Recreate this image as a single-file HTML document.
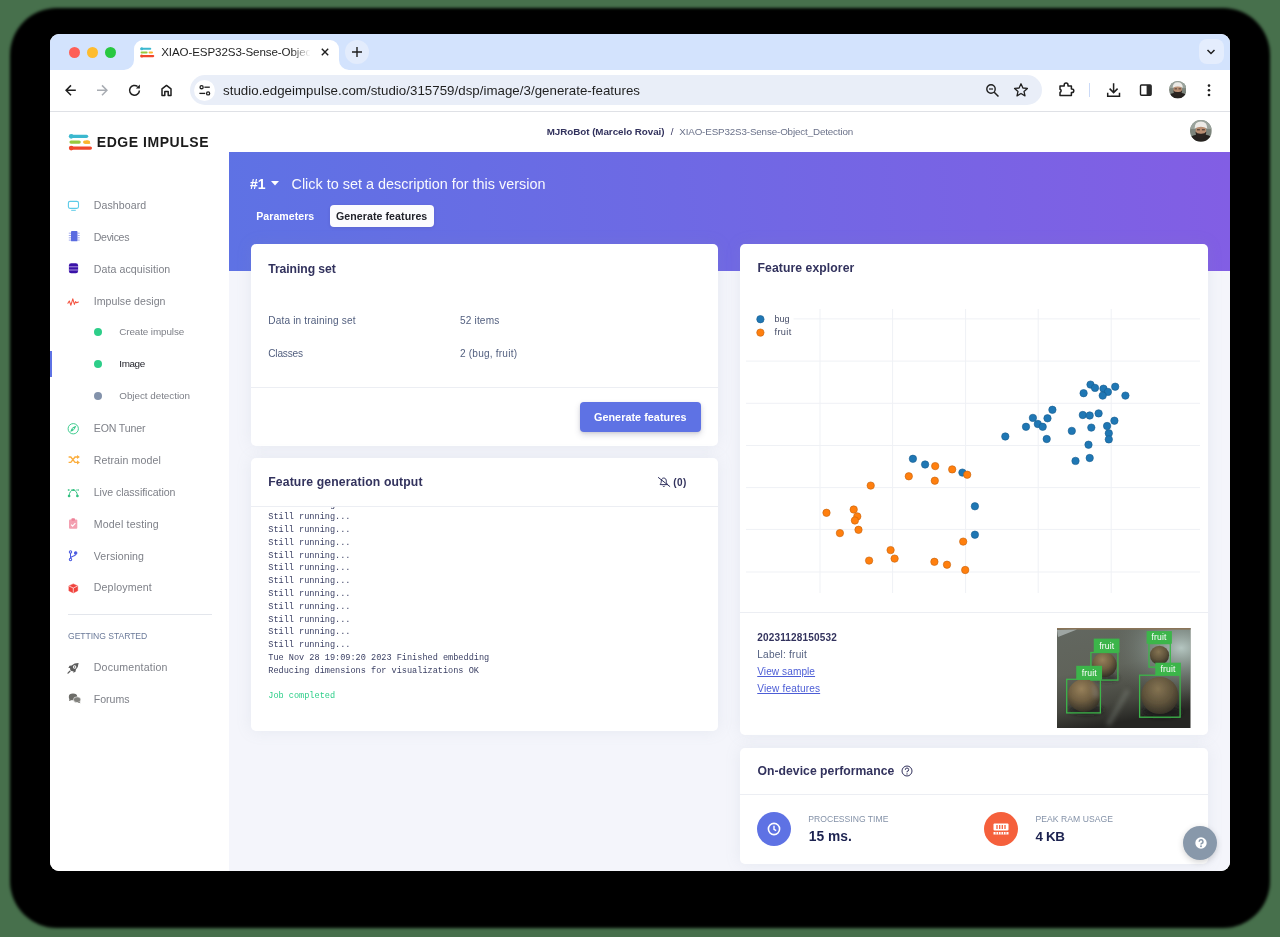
<!DOCTYPE html>
<html>
<head>
<meta charset="utf-8">
<title>XIAO-ESP32S3-Sense-Object_Detection</title>
<style>
*{box-sizing:border-box;margin:0;padding:0}
html,body{width:1280px;height:937px;overflow:hidden;background:#47704c}
body{font-family:"Liberation Sans",sans-serif;position:relative;color:#525f7f}
.abs{position:absolute}
.t{position:absolute;white-space:nowrap;line-height:1}
#shadow{position:absolute;left:9.5px;top:8px;width:1260.5px;height:919.5px;border-radius:47px;background:#000;filter:blur(1.5px)}
#win{position:absolute;left:50px;top:34px;width:1179.7px;height:837.4px;border-radius:9px;overflow:hidden;background:#fff}
#win>*{position:absolute}
/* coordinates inside #win are page coords minus (50,34); use helper wrapper to keep page coords */
#pg{left:-50px;top:-34px;width:1280px;height:937px;will-change:transform}
#pg>*{position:absolute}
/* chrome */
#tabstrip{left:50px;top:34px;width:1180px;height:35.5px;background:#d3e3fd}
#toolbar{left:50px;top:69.5px;width:1180px;height:42px;background:#fff;border-bottom:1px solid #dfe1e6}
#tab{left:133.5px;top:39.5px;width:205.5px;height:31px;background:#fff;border-radius:9px 9px 0 0}
.tl{width:11.2px;height:11.2px;border-radius:50%;top:46.7px}
#urlpill{left:189.7px;top:75.3px;width:852.5px;height:29.6px;border-radius:15px;background:#e9eef8}
/* app */
#sidebar{left:50px;top:111.5px;width:179px;height:761px;background:#fff}
#main{left:229px;top:111.5px;width:1001px;height:761px;background:#f4f5fb}
#topbar{left:229px;top:111.5px;width:1001px;height:40.5px;background:#fff}
#hero{left:229px;top:151.75px;width:1001px;height:119px;background:linear-gradient(87deg,#5e72e4 0%,#825ee4 100%)}
.card{background:#fff;border-radius:5px;box-shadow:0 0 16px rgba(136,152,170,.13)}
.hr{height:1px;background:#eceef3}
.ct{font-size:13px;font-weight:bold;color:#32325d}
.mi{font-size:11px;color:#7a7f8e}
.sub{font-size:9.5px;color:#7a7f8e}
.lbl{font-size:10.5px;color:#525f7f}
.log{font-family:"Liberation Mono",monospace;font-size:8.57px;color:#3a3f63;line-height:12.78px;white-space:pre}
</style>
</head>
<body>
<div id="shadow"></div>
<div id="win"><div id="pg">
<!-- CHROME -->
<div id="tabstrip"></div>
<div id="toolbar"></div>
<div id="tab"></div>
<!-- APP -->
<div id="sidebar"></div>
<div id="main"></div>
<div id="topbar"></div>
<div id="hero"></div>
<!-- chrome details -->
<div class="tl" style="left:69px;background:#fe5f57"></div>
<div class="tl" style="left:86.9px;background:#febc2e"></div>
<div class="tl" style="left:104.7px;background:#28c840"></div>
<!-- tab curves -->
<svg style="left:123.5px;top:59.5px" width="10" height="10" viewBox="0 0 10 10"><path d="M10 0 V10 H0 A10 10 0 0 0 10 0Z" fill="#fff"/></svg>
<svg style="left:339px;top:59.5px" width="10" height="10" viewBox="0 0 10 10"><path d="M0 0 V10 H10 A10 10 0 0 1 0 0Z" fill="#fff"/></svg>
<!-- favicon -->
<svg style="left:139.5px;top:46.5px" width="15" height="11" viewBox="0 0 15 11">
 <path d="M1.6 1.8 H10.2" stroke="#3bb8cf" stroke-width="2.1" stroke-linecap="round"/><circle cx="1.7" cy="1.8" r="1.5" fill="#3bb8cf"/>
 <path d="M1.6 5.4 H6.6" stroke="#97c93d" stroke-width="2" stroke-linecap="round"/>
 <path d="M9.6 5.4 H12" stroke="#fbb52f" stroke-width="2" stroke-linecap="round"/>
 <path d="M1.6 9.1 H13.2" stroke="#f0472b" stroke-width="2.1" stroke-linecap="round"/><circle cx="1.7" cy="9.1" r="1.5" fill="#f0472b"/>
</svg>
<svg style="left:320px;top:47px" width="10" height="10" viewBox="0 0 10 10"><path d="M1.8 1.8 L8.2 8.2 M8.2 1.8 L1.8 8.2" stroke="#1f1f1f" stroke-width="1.4" fill="none"/></svg>
<!-- new tab -->
<div style="left:345px;top:40px;width:24px;height:24px;border-radius:50%;background:#e3ecfc"></div>
<svg style="left:351px;top:46px" width="12" height="12" viewBox="0 0 12 12"><path d="M6 1 V11 M1 6 H11" stroke="#1f1f1f" stroke-width="1.4" fill="none"/></svg>
<!-- tab search -->
<div style="left:1199px;top:39px;width:24.7px;height:25.4px;border-radius:8px;background:#e4edfd"></div>
<svg style="left:1206.3px;top:48px" width="10" height="8" viewBox="0 0 10 8"><path d="M1.5 2 L5 5.5 L8.5 2" stroke="#1f1f1f" stroke-width="1.5" fill="none"/></svg>
<!-- nav icons -->
<svg style="left:60px;top:80px" width="120" height="20" viewBox="60 80 120 20" fill="none" stroke="#1f1f1f" stroke-width="1.5">
<path d="M75.8 90.3 H66.4 M71 85.4 L66.1 90.3 L71 95.2"/>
<path d="M97 90.3 H106.6 M102 85.4 L106.9 90.3 L102 95.2" stroke="#a8acb2"/>
<path d="M139.4 90.4 A4.9 4.9 0 1 1 137.6 86.5"/><path d="M139.9 84.6 V88.6 H135.9Z" fill="#1f1f1f" stroke="none"/>
<path d="M162 95.5 V88.9 L166.5 85.4 L171 88.9 V95.5 H168.2 V91.4 H164.8 V95.5 Z" stroke-linejoin="round"/>
</svg>
<div id="urlpill"></div>
<div style="left:193.8px;top:79.6px;width:21.4px;height:21.4px;border-radius:50%;background:#fff"></div>
<svg style="left:197px;top:83px" width="15" height="15" viewBox="197 83 15 15" fill="none" stroke="#1f1f1f" stroke-width="1.3"><circle cx="201.6" cy="87.2" r="1.55"/><path d="M204.4 87.2 H209.8"/><path d="M199.4 93.4 H205.2"/><circle cx="208.1" cy="93.4" r="1.55"/></svg>
<!-- right toolbar icons -->
<svg style="left:985px;top:83px" width="15" height="15" viewBox="0 0 15 15"><circle cx="6" cy="6" r="4.2" stroke="#1f1f1f" stroke-width="1.4" fill="none"/><path d="M9.2 9.2 L13.5 13.5" stroke="#1f1f1f" stroke-width="1.5"/><path d="M4 6 H8" stroke="#1f1f1f" stroke-width="1.2"/></svg>
<svg style="left:1013px;top:82px" width="16" height="16" viewBox="0 0 16 16"><path d="M8 1.8 L9.9 6 L14.4 6.4 L11 9.4 L12 13.9 L8 11.5 L4 13.9 L5 9.4 L1.6 6.4 L6.1 6Z" stroke="#1f1f1f" stroke-width="1.3" fill="none" stroke-linejoin="round"/></svg>
<svg style="left:1057px;top:80px" width="19" height="19" viewBox="1057 80 19 19" fill="none" stroke="#1f1f1f" stroke-width="1.5" stroke-linejoin="round"><path d="M1060 86 H1064.2 V85 A1.9 1.9 0 0 1 1068 85 V86 H1071.4 V89 H1072 A1.8 1.8 0 0 1 1072 92.6 H1071.4 V95.6 H1060 V92.4 A1.7 1.7 0 0 0 1060 89.2 Z"/></svg>
<div style="left:1088.5px;top:83.3px;width:1.4px;height:13.8px;background:#cbdaf7"></div>
<svg style="left:1104px;top:80px" width="19" height="19" viewBox="1104 80 19 19" fill="none" stroke="#1f1f1f" stroke-width="1.5"><path d="M1113.6 83.2 V92.4 M1109.6 88.6 L1113.6 92.6 L1117.6 88.6 M1107.7 92.8 V96.2 H1119.5 V92.8"/></svg>
<svg style="left:1138px;top:82px" width="16" height="16" viewBox="1138 82 16 16"><rect x="1140.5" y="85" width="10.6" height="10.3" rx="1" stroke="#1f1f1f" stroke-width="1.4" fill="none"/><rect x="1146.6" y="85" width="4.5" height="10.3" fill="#2a2a2a"/></svg>
<svg style="left:1168.75px;top:81.25px" width="17.5" height="17.5" viewBox="0 0 22 22"><defs><clipPath id="ca1"><circle cx="11" cy="11" r="11"/></clipPath></defs><g clip-path="url(#ca1)"><rect width="22" height="22" fill="#7d857c"/><rect x="0" y="0" width="22" height="9" fill="#9aa39c"/><path d="M0 22 V17.5 Q4 14.5 7 15 H15 Q18.5 14.5 22 17.5 V22Z" fill="#26221f"/><ellipse cx="11" cy="11.2" rx="5.4" ry="6.3" fill="#b98e72"/><path d="M5.5 11.5 Q6 18.8 11 18.8 Q16 18.8 16.5 11.5 Q15 14 11 13.8 Q7 14 5.5 11.5Z" fill="#2b2420"/><path d="M4.6 8.6 Q4.6 1.6 11 1.6 Q17.4 1.6 17.4 8.6 Q14 6.9 11 6.9 Q8 6.9 4.6 8.6Z" fill="#eceae6"/><rect x="7" y="9.4" width="3" height="1" fill="#3a2e28"/><rect x="12" y="9.4" width="3" height="1" fill="#3a2e28"/></g></svg>
<svg style="left:1206.4px;top:82px" width="6" height="16" viewBox="0 0 6 16"><circle cx="3" cy="3.6" r="1.3" fill="#1f1f1f"/><circle cx="3" cy="8.3" r="1.3" fill="#1f1f1f"/><circle cx="3" cy="13" r="1.3" fill="#1f1f1f"/></svg>
<!-- SIDEBAR -->
<svg style="left:68px;top:133px" width="26" height="18" viewBox="68 133 26 18">
 <path d="M71.2 136.3 H86.6" stroke="#3bb8cf" stroke-width="3.3" stroke-linecap="round"/><circle cx="71.2" cy="136.3" r="2.35" fill="#3bb8cf"/>
 <path d="M71 142.1 H79.2" stroke="#97c93d" stroke-width="3.1" stroke-linecap="round"/>
 <path d="M84.6 142.1 H88.6" stroke="#fbb52f" stroke-width="3.1" stroke-linecap="round"/><path d="M86 140.55 H88 L90.6 143.65 H84.6Z" fill="#fbb52f"/>
 <path d="M71.2 148.1 H90.4" stroke="#f0472b" stroke-width="3.2" stroke-linecap="round"/><circle cx="71.2" cy="148.1" r="2.35" fill="#f0472b"/>
</svg>
<div style="left:67.8px;top:614.1px;width:144px;height:1px;background:#e3e6ec"></div>
<div style="left:50px;top:350.5px;width:2.4px;height:26px;background:#5e72e4"></div>
<!-- sidebar icons -->
<svg style="left:66px;top:199px" width="15" height="14" viewBox="66 199 15 14" fill="none" stroke="#5ccbe8" stroke-width="1.1"><rect x="68.4" y="201.4" width="10.1" height="7" rx="1.6"/><path d="M71.2 210.3 H75.8" stroke-width="1"/></svg>
<svg style="left:67px;top:229px" width="15" height="15" viewBox="67 229 15 15"><rect x="71" y="231" width="6.5" height="10.3" rx=".9" fill="#5a6be0"/><path d="M68.8 233.2H71 M68.8 235.5H71 M68.8 237.8H71 M68.8 240.1H71 M77.5 233.2H79.7 M77.5 235.5H79.7 M77.5 237.8H79.7 M77.5 240.1H79.7" stroke="#8a96ea" stroke-width=".8"/></svg>
<svg style="left:67px;top:261px" width="14" height="14" viewBox="67 261 14 14"><rect x="68.9" y="263.3" width="9.2" height="9.9" rx="2.2" fill="#3a12a8"/><path d="M68.9 266.8 H78.1 M68.9 270 H78.1" stroke="#d9cdf5" stroke-width=".7"/></svg>
<svg style="left:66px;top:296px" width="15" height="12" viewBox="66 296 15 12"><path d="M67.9 303.2 L69.3 301 L70.9 305.2 L72.8 298.8 L74.4 304.4 L75.6 301.6 L76.6 302.8 L78.4 302" stroke="#f4523f" stroke-width="1.05" fill="none" stroke-linejoin="round" stroke-linecap="round"/></svg>
<div style="left:94px;top:328px;width:8px;height:8px;border-radius:50%;background:#2dce89"></div>
<div style="left:94px;top:360px;width:8px;height:8px;border-radius:50%;background:#2dce89"></div>
<div style="left:94px;top:392px;width:8px;height:8px;border-radius:50%;background:#8392ab"></div>
<svg style="left:66px;top:421px" width="15" height="15" viewBox="66 421 15 15"><circle cx="73.25" cy="428.75" r="5.15" fill="none" stroke="#37c98a" stroke-width=".95"/><path d="M76.3 425.7 Q75 429 73.9 430 Q72.2 431.4 70.2 431.8 Q71.4 428.6 72.6 427.5 Q74.2 426.1 76.3 425.7Z" fill="#37c98a"/><circle cx="73.25" cy="428.75" r=".7" fill="#fff"/></svg>
<svg style="left:67px;top:453px" width="15" height="13" viewBox="67 453 15 13"><path d="M68.6 457 H70.8 L75 462.4 H77.6 M68.6 462.4 H70.8 L75 457 H77.6" stroke="#fbad3c" stroke-width="1.35" fill="none"/><path d="M77 454.9 L79.9 457 L77 459.1Z M77 460.3 L79.9 462.4 L77 464.5Z" fill="#fbad3c"/></svg>
<svg style="left:66px;top:486px" width="15" height="13" viewBox="66 486 15 13"><path d="M69.1 495.8 C69.3 492.6 70.8 490.2 73.3 490 C75.8 490.2 77.2 492.6 77.4 495.8" stroke="#34c182" stroke-width="1" fill="none"/><path d="M68.3 490 H78.4" stroke="#34c182" stroke-width=".8" stroke-dasharray="1.6 1"/><circle cx="69.1" cy="496" r="1.35" fill="#34c182"/><circle cx="77.4" cy="496" r="1.35" fill="#34c182"/><circle cx="73.3" cy="490" r="1" fill="#34c182"/><circle cx="68.4" cy="490" r=".7" fill="#34c182"/><circle cx="78.3" cy="490" r=".7" fill="#34c182"/></svg>
<svg style="left:67px;top:516px" width="13" height="15" viewBox="67 516 13 15"><rect x="69" y="519.6" width="8.3" height="9.2" rx="1" fill="#f3a0b1"/><rect x="71.4" y="518.3" width="3.6" height="2.4" rx=".9" fill="#ee8198"/><path d="M71.1 524.6 L72.6 526.1 L75.4 523.1" stroke="#fff" stroke-width="1.15" fill="none"/></svg>
<svg style="left:67px;top:548px" width="13" height="15" viewBox="67 548 13 15" fill="none" stroke="#4a5ae0" stroke-width="1.05"><circle cx="70.5" cy="551.9" r="1.2"/><circle cx="70.5" cy="559.5" r="1.2"/><circle cx="75.7" cy="553" r="1.2" fill="#4a5ae0"/><path d="M70.5 553.1 V558.3 M75.7 554.2 C75.7 556.6 70.5 556 70.5 558.2"/></svg>
<svg style="left:67px;top:582px" width="13" height="13" viewBox="67 582 13 13"><path d="M73.3 583.9 L77.7 585.9 V590.8 L73.3 592.9 L68.9 590.8 V585.9Z" fill="#f0423c" stroke="#f0423c" stroke-width=".5" stroke-linejoin="round"/><path d="M69.1 586.1 L73.3 588 L77.5 586.1 M73.3 588 V592.7" stroke="#fff" stroke-width=".7" fill="none"/></svg>
<svg style="left:66px;top:661px" width="15" height="14" viewBox="66 661 15 14"><path d="M78.6 663 Q74.5 662.9 71.6 665.4 L69.5 665.8 L68.4 668 L70.1 667.9 Q69.9 669.3 70.6 670.6 Q72 671.4 73.4 671.1 L73.3 672.8 L75.5 671.7 L75.9 669.6 Q78.5 666.8 78.6 663Z" fill="#5c5c5c"/><circle cx="74.6" cy="667" r="1.7" fill="#fff"/><circle cx="74.6" cy="667" r=".8" fill="#5c5c5c"/><path d="M69.9 671.3 L68 673.1" stroke="#5c5c5c" stroke-width="1.3" stroke-linecap="round"/></svg>
<svg style="left:67px;top:692px" width="16" height="13" viewBox="67 692 16 13"><ellipse cx="73" cy="696.9" rx="4.2" ry="3.3" fill="#6c6c68"/><path d="M69.6 698.6 L69 701 L72 699.9Z" fill="#6c6c68"/><ellipse cx="77.1" cy="699.7" rx="3.7" ry="2.9" fill="#80807c" stroke="#fff" stroke-width=".6"/><path d="M79.3 701.6 L80.6 703.2 L77.6 702.5Z" fill="#80807c"/></svg>
<!-- TOPBAR -->
<svg style="left:1190.2px;top:120.4px" width="21.8" height="21.8" viewBox="0 0 22 22"><defs><clipPath id="ca2"><circle cx="11" cy="11" r="11"/></clipPath></defs><g clip-path="url(#ca2)"><rect width="22" height="22" fill="#7d857c"/><rect x="0" y="0" width="22" height="9" fill="#9aa39c"/><path d="M0 22 V17.5 Q4 14.5 7 15 H15 Q18.5 14.5 22 17.5 V22Z" fill="#26221f"/><ellipse cx="11" cy="11.2" rx="5.4" ry="6.3" fill="#b98e72"/><path d="M5.5 11.5 Q6 18.8 11 18.8 Q16 18.8 16.5 11.5 Q15 14 11 13.8 Q7 14 5.5 11.5Z" fill="#2b2420"/><path d="M4.6 8.6 Q4.6 1.6 11 1.6 Q17.4 1.6 17.4 8.6 Q14 6.9 11 6.9 Q8 6.9 4.6 8.6Z" fill="#eceae6"/><rect x="7" y="9.4" width="3" height="1" fill="#3a2e28"/><rect x="12" y="9.4" width="3" height="1" fill="#3a2e28"/></g></svg>
<!-- HERO -->
<svg style="left:271px;top:181px" width="8" height="5" viewBox="0 0 8 5"><path d="M0 0 H8 L4 4.5Z" fill="#fff"/></svg>
<div style="left:330px;top:205px;width:104px;height:22px;border-radius:4px;background:#fbfbfe;box-shadow:0 1px 3px rgba(50,50,93,.15)"></div>
<!-- TRAINING SET CARD -->
<div class="card" style="left:251px;top:244px;width:467px;height:202px"></div>
<div class="hr" style="left:251px;top:387px;width:467px"></div>
<div style="left:580px;top:402px;width:121px;height:30px;border-radius:4px;background:#5e72e4;box-shadow:0 3px 6px rgba(50,50,93,.18),0 1px 3px rgba(0,0,0,.1)"></div>
<!-- OUTPUT CARD -->
<div class="card" style="left:251px;top:458px;width:467px;height:273px"></div>
<svg style="left:656px;top:475px" width="16" height="14" viewBox="656 475 16 14" fill="none" stroke="#2b2d5b"><path d="M663.8 478 C661.9 478 661.3 479.7 661.3 481.2 C661.3 483.1 660.5 483.9 660.1 484.6 H667.5 C667.1 483.9 666.3 483.1 666.3 481.2 C666.3 479.7 665.7 478 663.8 478Z M662.8 485.8 A1.05 1.05 0 0 0 664.8 485.8" stroke-width=".95"/><path d="M658.1 477.3 L670.1 486.7" stroke-width="1"/></svg>
<div class="hr" style="left:251px;top:506px;width:467px"></div>
<div style="left:251px;top:507px;width:467px;height:210px;overflow:hidden"><div class="log" id="log" style="position:absolute;left:17.25px;top:-8.5px">Still running...
Still running...
Still running...
Still running...
Still running...
Still running...
Still running...
Still running...
Still running...
Still running...
Still running...
Still running...
Tue Nov 28 19:09:20 2023 Finished embedding
Reducing dimensions for visualizations OK

<span style="color:#2dce89">Job completed</span></div></div>
<!-- FEATURE EXPLORER -->
<div class="card" style="left:740px;top:244px;width:468px;height:491px"></div>
<svg id="plot" style="left:0;top:0" width="1280" height="937" viewBox="0 0 1280 937">
<path d="M820.0 309 V593" stroke="#eff1f5" stroke-width="1"/><path d="M892.6 309 V593" stroke="#eff1f5" stroke-width="1"/><path d="M965.6 309 V593" stroke="#eff1f5" stroke-width="1"/><path d="M1038.2 309 V593" stroke="#eff1f5" stroke-width="1"/><path d="M1111.2 309 V593" stroke="#eff1f5" stroke-width="1"/><path d="M746 318.9 H1200" stroke="#eff1f5" stroke-width="1"/><path d="M746 361.1 H1200" stroke="#eff1f5" stroke-width="1"/><path d="M746 403.3 H1200" stroke="#eff1f5" stroke-width="1"/><path d="M746 445.5 H1200" stroke="#eff1f5" stroke-width="1"/><path d="M746 487.6 H1200" stroke="#eff1f5" stroke-width="1"/><path d="M746 529.4 H1200" stroke="#eff1f5" stroke-width="1"/><path d="M746 572.0 H1200" stroke="#eff1f5" stroke-width="1"/>
<rect x="745" y="311" width="48.5" height="29" fill="#fff"/>
<circle cx="760.4" cy="319.2" r="3.7" fill="#1f77b4" stroke="#185d8e" stroke-width=".6"/>
<circle cx="760.4" cy="332.6" r="3.7" fill="#ff7f0e" stroke="#c4620b" stroke-width=".6"/>
<g fill="#1f77b4" stroke="#185d8e" stroke-width="0.6"><circle cx="1090.5" cy="384.6" r="3.7"/><circle cx="1095.0" cy="387.9" r="3.7"/><circle cx="1103.5" cy="388.7" r="3.7"/><circle cx="1115.2" cy="386.7" r="3.7"/><circle cx="1083.6" cy="393.2" r="3.7"/><circle cx="1107.9" cy="391.9" r="3.7"/><circle cx="1102.7" cy="395.6" r="3.7"/><circle cx="1125.4" cy="395.6" r="3.7"/><circle cx="1052.4" cy="409.8" r="3.7"/><circle cx="1032.9" cy="417.9" r="3.7"/><circle cx="1047.5" cy="418.3" r="3.7"/><circle cx="1082.8" cy="415.0" r="3.7"/><circle cx="1089.7" cy="415.5" r="3.7"/><circle cx="1098.6" cy="413.4" r="3.7"/><circle cx="1026.0" cy="426.8" r="3.7"/><circle cx="1037.8" cy="424.0" r="3.7"/><circle cx="1042.7" cy="426.8" r="3.7"/><circle cx="1114.4" cy="420.7" r="3.7"/><circle cx="1091.3" cy="427.6" r="3.7"/><circle cx="1107.1" cy="426.0" r="3.7"/><circle cx="1071.8" cy="430.9" r="3.7"/><circle cx="1108.8" cy="433.3" r="3.7"/><circle cx="1005.3" cy="436.5" r="3.7"/><circle cx="1046.7" cy="439.0" r="3.7"/><circle cx="1108.8" cy="439.4" r="3.7"/><circle cx="1088.5" cy="444.7" r="3.7"/><circle cx="1075.5" cy="460.9" r="3.7"/><circle cx="1089.7" cy="458.0" r="3.7"/><circle cx="912.9" cy="458.8" r="3.7"/><circle cx="925.1" cy="464.5" r="3.7"/><circle cx="962.4" cy="472.6" r="3.7"/><circle cx="974.9" cy="506.3" r="3.7"/><circle cx="974.9" cy="534.7" r="3.7"/></g>
<g fill="#ff7f0e" stroke="#c4620b" stroke-width="0.6"><circle cx="935.2" cy="466.1" r="3.7"/><circle cx="952.2" cy="469.4" r="3.7"/><circle cx="967.2" cy="474.7" r="3.7"/><circle cx="908.8" cy="476.3" r="3.7"/><circle cx="934.8" cy="480.7" r="3.7"/><circle cx="870.7" cy="485.6" r="3.7"/><circle cx="826.5" cy="512.8" r="3.7"/><circle cx="853.7" cy="509.5" r="3.7"/><circle cx="857.3" cy="516.4" r="3.7"/><circle cx="854.9" cy="520.5" r="3.7"/><circle cx="858.5" cy="529.8" r="3.7"/><circle cx="839.9" cy="533.1" r="3.7"/><circle cx="963.2" cy="541.6" r="3.7"/><circle cx="890.6" cy="550.1" r="3.7"/><circle cx="894.6" cy="558.6" r="3.7"/><circle cx="869.1" cy="560.6" r="3.7"/><circle cx="934.4" cy="561.8" r="3.7"/><circle cx="947.0" cy="564.7" r="3.7"/><circle cx="965.2" cy="570.0" r="3.7"/></g>
</svg>
<div class="hr" style="left:740px;top:612px;width:468px"></div>
<svg style="left:1057px;top:628px" width="133.5" height="100" viewBox="1057 628 133.5 100">
<defs>
<linearGradient id="fl" x1="0" y1="0" x2="0.25" y2="1"><stop offset="0" stop-color="#626760"/><stop offset=".45" stop-color="#60635a"/><stop offset=".8" stop-color="#45463f"/><stop offset="1" stop-color="#262623"/></linearGradient>
<radialGradient id="lt" cx=".93" cy=".2" r=".55"><stop offset="0" stop-color="#b9cbc6" stop-opacity=".95"/><stop offset=".45" stop-color="#8a9a94" stop-opacity=".55"/><stop offset="1" stop-color="#5c615a" stop-opacity="0"/></radialGradient>
<radialGradient id="b1" cx=".42" cy=".3" r=".75"><stop offset="0" stop-color="#97805a"/><stop offset=".5" stop-color="#6f5e41"/><stop offset="1" stop-color="#2c2a23"/></radialGradient>
<radialGradient id="b2" cx=".45" cy=".32" r=".8"><stop offset="0" stop-color="#847352"/><stop offset=".5" stop-color="#5f533b"/><stop offset="1" stop-color="#24231e"/></radialGradient>
<filter id="bl" x="-20%" y="-20%" width="140%" height="140%"><feGaussianBlur stdDeviation="0.7"/></filter>
<filter id="bl2" x="-30%" y="-30%" width="160%" height="160%"><feGaussianBlur stdDeviation="2.2"/></filter>
</defs>
<rect x="1057" y="628" width="133.5" height="100" fill="url(#fl)"/>
<rect x="1057" y="628" width="133.5" height="100" fill="url(#lt)"/>
<rect x="1057" y="628" width="133.5" height="1.6" fill="#8a7458"/>
<path d="M1057 630 L1077 629.5 L1058 637Z" fill="#aeb6b4" opacity=".8"/>
<g filter="url(#bl2)"><ellipse cx="1162" cy="712" rx="20" ry="6" fill="#1d1d1b" opacity=".8"/><ellipse cx="1086" cy="710" rx="18" ry="5" fill="#1d1d1b" opacity=".75"/><ellipse cx="1107" cy="678" rx="12" ry="3.5" fill="#2a2a26" opacity=".7"/><path d="M1108 725 L1128 690" stroke="#8a8f86" stroke-width="5" opacity=".35"/></g>
<g filter="url(#bl)">
<circle cx="1104.4" cy="664.7" r="12.3" fill="url(#b1)"/>
<circle cx="1159.5" cy="655.3" r="9.6" fill="url(#b2)"/>
<circle cx="1084" cy="695.5" r="16.4" fill="url(#b1)"/>
<circle cx="1159.8" cy="695.5" r="18.6" fill="url(#b2)"/>
<path d="M1091 682 A16.4 16.4 0 0 1 1100 697 L1093 698Z" fill="#9a9a98" opacity=".35" filter="url(#bl2)"/>
</g>
<g fill="none" stroke="#3cb54a" stroke-width="1.3">
<rect x="1090.9" y="652.5" width="27" height="27.6"/><rect x="1149" y="643.6" width="21.3" height="23.5"/>
<rect x="1066.7" y="679.3" width="33.7" height="33.6"/><rect x="1139.6" y="675.2" width="40.5" height="42"/></g>
<g fill="#3cb54a"><rect x="1093.75" y="638.6" width="25.7" height="14"/><rect x="1146.6" y="631.1" width="25.3" height="12.6"/><rect x="1076.25" y="665.8" width="25.8" height="13.8"/><rect x="1155.3" y="662.7" width="25.6" height="12.7"/></g>
<g fill="#fff" font-family="Liberation Sans, sans-serif" font-size="8.6" letter-spacing=".15"><text x="1099.3" y="648.6">fruit</text><text x="1151.5" y="640.2">fruit</text><text x="1081.8" y="675.7">fruit</text><text x="1160.5" y="672.3">fruit</text></g>
</svg>
<!-- PERFORMANCE -->
<div class="card" style="left:740px;top:748px;width:468px;height:116px"></div>
<svg style="left:901px;top:765px" width="12" height="12" viewBox="0 0 12 12"><circle cx="6" cy="6" r="5" fill="none" stroke="#32325d" stroke-width="1"/><path d="M4.3 4.8 A1.7 1.7 0 1 1 6 6.4 V7.3" stroke="#32325d" stroke-width="1" fill="none"/><circle cx="6" cy="8.9" r=".7" fill="#32325d"/></svg>
<div class="hr" style="left:740px;top:794px;width:468px"></div>
<div style="left:757px;top:812px;width:34px;height:34px;border-radius:50%;background:#5e72e4"></div>
<svg style="left:767px;top:822px" width="14" height="14" viewBox="0 0 14 14"><circle cx="7" cy="7" r="5.6" fill="none" stroke="#fff" stroke-width="1.6"/><path d="M7 3.8 V7.3 L9.2 8.6" stroke="#fff" stroke-width="1.4" fill="none"/></svg>
<div style="left:984px;top:812px;width:34px;height:34px;border-radius:50%;background:#f5603c"></div>
<svg style="left:993px;top:823px" width="16" height="12" viewBox="0 0 16 12"><rect x="0.5" y="0.5" width="15" height="7" rx="1" fill="#fff"/><path d="M4 2 V6 M6.7 2 V6 M9.3 2 V6 M12 2 V6" stroke="#f5603c" stroke-width="1.3"/><path d="M0.5 9 H15.5 V11.5 H0.5Z" fill="#fff"/><path d="M3 9 V11.5 M5.5 9 V11.5 M8 9 V11.5 M10.5 9 V11.5 M13 9 V11.5" stroke="#f5603c" stroke-width=".8"/></svg>
<!-- HELP FAB -->
<div style="left:1183px;top:826px;width:34px;height:34px;border-radius:50%;background:#8898aa;box-shadow:0 2px 6px rgba(0,0,0,.18)"></div>
<div class="t" style="left:223.00px;top:83.74px;font-size:13.3px;font-weight:normal;color:#1f1f1f;letter-spacing:0.024px;">studio.edgeimpulse.com/studio/315759/dsp/image/3/generate-features</div>
<div class="t" style="left:96.75px;top:135.15px;font-size:14px;font-weight:bold;color:#1b1b1b;letter-spacing:0.541px;">EDGE IMPULSE</div>
<div class="t" style="left:93.75px;top:199.77px;font-size:10.6px;font-weight:normal;color:#7e8088;letter-spacing:0.084px;">Dashboard</div>
<div class="t" style="left:93.75px;top:231.77px;font-size:10.6px;font-weight:normal;color:#7e8088;letter-spacing:-0.323px;">Devices</div>
<div class="t" style="left:93.75px;top:263.77px;font-size:10.6px;font-weight:normal;color:#7e8088;letter-spacing:0.074px;">Data acquisition</div>
<div class="t" style="left:93.75px;top:295.52px;font-size:10.6px;font-weight:normal;color:#7e8088;letter-spacing:0.037px;">Impulse design</div>
<div class="t" style="left:119.25px;top:327.12px;font-size:9.9px;font-weight:normal;color:#7e8088;letter-spacing:-0.109px;">Create impulse</div>
<div class="t" style="left:119.25px;top:358.87px;font-size:9.9px;font-weight:normal;color:#22232b;letter-spacing:-0.363px;">Image</div>
<div class="t" style="left:119.25px;top:391.12px;font-size:9.9px;font-weight:normal;color:#7e8088;letter-spacing:-0.042px;">Object detection</div>
<div class="t" style="left:93.75px;top:423.27px;font-size:10.6px;font-weight:normal;color:#7e8088;letter-spacing:-0.156px;">EON Tuner</div>
<div class="t" style="left:93.75px;top:455.02px;font-size:10.6px;font-weight:normal;color:#7e8088;letter-spacing:0.087px;">Retrain model</div>
<div class="t" style="left:93.75px;top:487.02px;font-size:10.6px;font-weight:normal;color:#7e8088;letter-spacing:-0.038px;">Live classification</div>
<div class="t" style="left:93.75px;top:519.02px;font-size:10.6px;font-weight:normal;color:#7e8088;letter-spacing:0.165px;">Model testing</div>
<div class="t" style="left:93.75px;top:550.52px;font-size:10.6px;font-weight:normal;color:#7e8088;letter-spacing:0.085px;">Versioning</div>
<div class="t" style="left:93.75px;top:582.27px;font-size:10.6px;font-weight:normal;color:#7e8088;letter-spacing:0.163px;">Deployment</div>
<div class="t" style="left:68.00px;top:631.72px;font-size:8.6px;font-weight:normal;color:#6b7a99;letter-spacing:-0.047px;">GETTING STARTED</div>
<div class="t" style="left:93.75px;top:661.52px;font-size:10.6px;font-weight:normal;color:#7e8088;letter-spacing:0.207px;">Documentation</div>
<div class="t" style="left:93.75px;top:693.52px;font-size:10.6px;font-weight:normal;color:#7e8088;letter-spacing:-0.031px;">Forums</div>
<div class="t" style="left:546.75px;top:127.20px;font-size:9.8px;font-weight:bold;color:#32325d;letter-spacing:-0.042px;">MJRoBot (Marcelo Rovai)</div>
<div class="t" style="left:670.75px;top:127.20px;font-size:9.8px;font-weight:normal;color:#32325d;letter-spacing:0.266px;">/</div>
<div class="t" style="left:679.25px;top:127.20px;font-size:9.8px;font-weight:normal;color:#6a7189;letter-spacing:-0.136px;">XIAO-ESP32S3-Sense-Object_Detection</div>
<div class="t" style="left:250.00px;top:177.45px;font-size:14px;font-weight:bold;color:#fff;letter-spacing:-0.078px;">#1</div>
<div class="t" style="left:291.50px;top:177.31px;font-size:14.4px;font-weight:normal;color:#fff;letter-spacing:0.011px;opacity:.96;">Click to set a description for this version</div>
<div class="t" style="left:256.25px;top:210.77px;font-size:10.6px;font-weight:bold;color:#fff;letter-spacing:0.031px;">Parameters</div>
<div class="t" style="left:336.00px;top:210.77px;font-size:10.6px;font-weight:bold;color:#22232b;letter-spacing:0.072px;">Generate features</div>
<div class="t" style="left:268.25px;top:262.87px;font-size:12.2px;font-weight:bold;color:#32325d;letter-spacing:-0.082px;">Training set</div>
<div class="t" style="left:268.25px;top:315.55px;font-size:10.1px;font-weight:normal;color:#525f7f;letter-spacing:0.162px;">Data in training set</div>
<div class="t" style="left:460.00px;top:315.55px;font-size:10.1px;font-weight:normal;color:#525f7f;letter-spacing:0.156px;">52 items</div>
<div class="t" style="left:268.25px;top:349.25px;font-size:10.1px;font-weight:normal;color:#525f7f;letter-spacing:-0.193px;">Classes</div>
<div class="t" style="left:460.00px;top:349.25px;font-size:10.1px;font-weight:normal;color:#525f7f;letter-spacing:0.198px;">2 (bug, fruit)</div>
<div class="t" style="left:594.00px;top:412.06px;font-size:10.8px;font-weight:bold;color:#fff;letter-spacing:0.042px;">Generate features</div>
<div class="t" style="left:268.25px;top:476.42px;font-size:12.2px;font-weight:bold;color:#32325d;letter-spacing:0.135px;">Feature generation output</div>
<div class="t" style="left:673.20px;top:478.23px;font-size:10px;font-weight:bold;color:#32325d;letter-spacing:0.433px;">(0)</div>
<div class="t" style="left:757.50px;top:262.17px;font-size:12.2px;font-weight:bold;color:#32325d;letter-spacing:0.082px;">Feature explorer</div>
<div class="t" style="left:774.50px;top:314.88px;font-size:9.0px;font-weight:normal;color:#444b66;letter-spacing:-0.016px;">bug</div>
<div class="t" style="left:774.50px;top:328.21px;font-size:9.2px;font-weight:normal;color:#444b66;letter-spacing:0.355px;">fruit</div>
<div class="t" style="left:757.25px;top:632.83px;font-size:10px;font-weight:bold;color:#32325d;letter-spacing:0.168px;">20231128150532</div>
<div class="t" style="left:757.25px;top:650.25px;font-size:10.1px;font-weight:normal;color:#525f7f;letter-spacing:0.214px;">Label: fruit</div>
<div class="t" style="left:757.25px;top:667.25px;font-size:10.1px;font-weight:normal;color:#4c5dd6;letter-spacing:0.070px;text-decoration:underline;text-underline-offset:1px;">View sample</div>
<div class="t" style="left:757.25px;top:684.25px;font-size:10.1px;font-weight:normal;color:#4c5dd6;letter-spacing:0.147px;text-decoration:underline;text-underline-offset:1px;">View features</div>
<div class="t" style="left:757.50px;top:765.17px;font-size:12.2px;font-weight:bold;color:#32325d;letter-spacing:0.030px;">On-device performance</div>
<div class="t" style="left:808.30px;top:814.92px;font-size:8.6px;font-weight:normal;color:#8492a8;letter-spacing:0.002px;">PROCESSING TIME</div>
<div class="t" style="left:808.75px;top:829.72px;font-size:13.8px;font-weight:bold;color:#1c2250;letter-spacing:0.036px;">15 ms.</div>
<div class="t" style="left:1035.50px;top:814.97px;font-size:8.6px;font-weight:normal;color:#8492a8;letter-spacing:0.047px;">PEAK RAM USAGE</div>
<div class="t" style="left:1035.50px;top:829.90px;font-size:13.4px;font-weight:bold;color:#1c2250;letter-spacing:-0.339px;">4 KB</div>
<div class="t" style="left:161.25px;top:46.43px;font-size:11.6px;color:#1f1f1f;width:151px;overflow:hidden;letter-spacing:-0.114px;-webkit-mask-image:linear-gradient(90deg,#000 86%,transparent 99%)">XIAO-ESP32S3-Sense-Object_Detection</div>
<svg style="left:1195.2px;top:837px" width="12" height="12" viewBox="0 0 12 12"><circle cx="6" cy="6" r="5.7" fill="#fff"/><path d="M4.2 4.7 A1.9 1.9 0 1 1 6.6 6.5 Q6 6.8 6 7.4" stroke="#8898aa" stroke-width="1.5" fill="none"/><circle cx="6" cy="9.2" r=".95" fill="#8898aa"/></svg>
<!--SECTIONS-->
</div></div>
</body>
</html>
